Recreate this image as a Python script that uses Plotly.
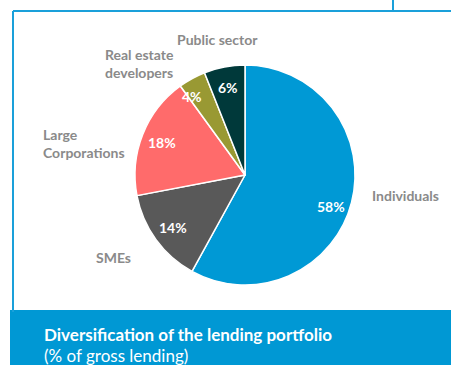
import math
import plotly.graph_objects as go

# Lending portfolio breakdown (% of gross lending)
segments = ["Individuals", "SMEs", "Large Corporations", "Real estate developers", "Public sector"]
shares = [58, 14, 18, 4, 6]
colors = ["#0099D5", "#595959", "#FF6B6B", "#999933", "#00393A"]

# outside category labels (line-broken) and their anchor points in pixels
label_text = ["Individuals", "SMEs", "Large<br>Corporations", "Real estate<br>developers", "Public sector"]
label_x = [370, 94, 41, 103, 175]
label_y = [195, 257, 143, 63, 39]

# small pixel nudges for the value labels inside the slices
value_dx = [0, 0, 0, -10, 0]
value_dy = [9, 0, 0, 0, 0]

W, H = 451, 365
BLUE = "#0098D4"
FRAME = "#1AA0DA"
GREY = "#8A8A8A"
FONT = "Lato"

# pie geometry in pixels
CX, CY, R = 245, 175, 110

fig = go.Figure(go.Pie(
    labels=segments,
    values=shares,
    sort=False,
    direction="clockwise",
    rotation=0,
    marker=dict(colors=colors, line=dict(color="white", width=1.5)),
    textinfo="none",
    hoverinfo="label+percent",
    showlegend=False,
    domain=dict(x=[(CX - R) / W, (CX + R) / W], y=[(H - CY - R) / H, (H - CY + R) / H]),
))

annotations = []
for txt, x, y in zip(label_text, label_x, label_y):
    annotations.append(dict(
        text=txt, x=x / W, y=1 - y / H, xref="paper", yref="paper",
        xanchor="left", yanchor="middle", align="left", showarrow=False,
        font=dict(family=FONT, size=14, color=GREY, weight="bold"),
    ))

# value labels placed at 81% of the radius along each slice's mid-angle
total = sum(shares)
cum = 0
for v, dx, dy in zip(shares, value_dx, value_dy):
    mid = (cum + v / 2) / total * 2 * math.pi
    cum += v
    px = CX + 0.81 * R * math.sin(mid) + dx
    py = CY - 0.81 * R * math.cos(mid) + dy
    annotations.append(dict(
        text=f"{v}%", x=px / W, y=1 - py / H, xref="paper", yref="paper",
        xanchor="center", yanchor="middle", showarrow=False,
        font=dict(family=FONT, size=14, color="white", weight="bold"),
    ))

# caption in the blue banner
annotations.append(dict(
    text="<b>Diversification of the lending portfolio</b>",
    x=42 / W, y=1 - 334 / H, xref="paper", yref="paper",
    xanchor="left", yanchor="middle", showarrow=False,
    font=dict(family=FONT, size=17, color="white"),
))
annotations.append(dict(
    text="(% of gross lending)",
    x=42 / W, y=1 - 355 / H, xref="paper", yref="paper",
    xanchor="left", yanchor="middle", showarrow=False,
    font=dict(family=FONT, size=17, color="white"),
))

shapes = [
    # outer frame lines
    dict(type="line", xref="paper", yref="paper", x0=13 / W, x1=13 / W,
         y0=1 - 11 / H, y1=1 - 312 / H, line=dict(color=FRAME, width=2)),
    dict(type="line", xref="paper", yref="paper", x0=13 / W, x1=1,
         y0=1 - 11 / H, y1=1 - 11 / H, line=dict(color=FRAME, width=2)),
    dict(type="line", xref="paper", yref="paper", x0=393 / W, x1=393 / W,
         y0=1, y1=1 - 11 / H, line=dict(color=FRAME, width=2)),
    # caption banner
    dict(type="rect", xref="paper", yref="paper", x0=10 / W, x1=1,
         y0=0, y1=1 - 310 / H, fillcolor=BLUE, line=dict(width=0), layer="below"),
]

fig.update_layout(
    width=W, height=H,
    margin=dict(l=0, r=0, t=0, b=0),
    paper_bgcolor="white",
    plot_bgcolor="white",
    annotations=annotations,
    shapes=shapes,
)

fig.write_html("out.html")
